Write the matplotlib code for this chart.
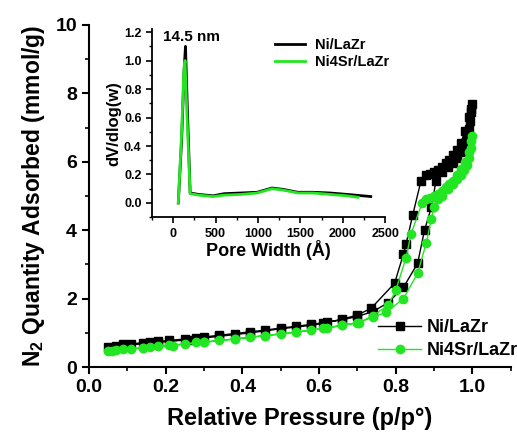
import matplotlib
matplotlib.use("Agg")
import matplotlib.pyplot as plt
from matplotlib.ticker import MultipleLocator

plt.rcParams["font.family"] = ["Liberation Sans", "DejaVu Sans"]
plt.rcParams["font.weight"] = "bold"
plt.rcParams["mathtext.fontset"] = "custom"
plt.rcParams["mathtext.rm"] = "Liberation Sans:bold"
plt.rcParams["mathtext.bf"] = "Liberation Sans:bold"
plt.rcParams["mathtext.default"] = "bf"

# ---------------------------------------------------------------------------
# Data
# ---------------------------------------------------------------------------
# Ni/LaZr isotherm: adsorption then desorption
ni_ads_p = [0.05, 0.07, 0.09, 0.11, 0.14, 0.16, 0.18, 0.21, 0.25, 0.28, 0.30,
            0.34, 0.38, 0.42, 0.46, 0.50, 0.54, 0.58, 0.62, 0.66, 0.70, 0.74,
            0.78, 0.82, 0.857, 0.875, 0.893, 0.905, 0.92, 0.935, 0.948, 0.96,
            0.97, 0.978, 0.985, 0.99, 0.994, 0.997, 0.999]
ni_ads_q = [0.60, 0.63, 0.66, 0.68, 0.71, 0.73, 0.75, 0.78, 0.82, 0.86, 0.88,
            0.93, 0.98, 1.03, 1.08, 1.14, 1.19, 1.25, 1.31, 1.38, 1.48, 1.62,
            1.88, 2.33, 3.03, 4.00, 4.67, 5.45, 5.70, 5.85, 5.97, 6.10,
            6.30, 6.50, 6.70, 6.95, 7.20, 7.45, 7.70]
ni_des_p = [0.995, 0.99, 0.98, 0.97, 0.96, 0.95, 0.94, 0.93, 0.92, 0.91, 0.90,
            0.89, 0.88, 0.866, 0.844, 0.827, 0.82, 0.797, 0.736, 0.70, 0.66,
            0.61, 0.58, 0.50, 0.42, 0.34, 0.26, 0.18, 0.10]
ni_des_q = [7.55, 7.30, 6.90, 6.55, 6.35, 6.20, 6.05, 5.95, 5.85, 5.75, 5.70,
            5.65, 5.60, 5.45, 4.43, 3.60, 3.30, 2.45, 1.72, 1.52, 1.40,
            1.28, 1.22, 1.12, 1.00, 0.90, 0.80, 0.72, 0.64]

# Ni4Sr/LaZr isotherm: adsorption then desorption
sr_ads_p = [0.05, 0.07, 0.09, 0.11, 0.14, 0.16, 0.18, 0.21, 0.25, 0.28, 0.30,
            0.34, 0.38, 0.42, 0.46, 0.50, 0.54, 0.58, 0.62, 0.66, 0.70, 0.74,
            0.775, 0.82, 0.857, 0.88, 0.893, 0.90, 0.91, 0.92, 0.935, 0.948,
            0.96, 0.97, 0.978, 0.985, 0.99, 0.995, 0.999]
sr_ads_q = [0.46, 0.49, 0.52, 0.54, 0.57, 0.59, 0.61, 0.64, 0.68, 0.72, 0.74,
            0.78, 0.82, 0.87, 0.92, 0.97, 1.02, 1.08, 1.14, 1.22, 1.30, 1.45,
            1.60, 2.00, 2.74, 3.64, 4.34, 4.67, 4.90, 5.00, 5.20, 5.35,
            5.50, 5.60, 5.75, 5.90, 6.10, 6.40, 6.76]
sr_des_p = [0.995, 0.99, 0.98, 0.97, 0.96, 0.95, 0.94, 0.93, 0.92, 0.91, 0.90,
            0.89, 0.88, 0.869, 0.84, 0.827, 0.80, 0.78, 0.74, 0.705, 0.66,
            0.61, 0.54, 0.46, 0.38, 0.30, 0.22, 0.14, 0.06]
sr_des_q = [6.60, 6.30, 6.00, 5.80, 5.60, 5.45, 5.35, 5.25, 5.15, 5.05, 5.00,
            4.95, 4.90, 4.80, 3.90, 3.20, 2.24, 1.80, 1.50, 1.30, 1.22,
            1.13, 1.02, 0.92, 0.82, 0.72, 0.63, 0.55, 0.48]

# Pore size distribution (inset)
ni_w = [60, 100, 130, 145, 165, 200, 300, 470, 600, 800, 990, 1165, 1300,
        1470, 1650, 1850, 2050, 2240, 2330]
ni_dv = [0.00, 0.45, 0.95, 1.10, 0.70, 0.07, 0.06, 0.05, 0.065, 0.07, 0.075,
         0.105, 0.095, 0.075, 0.075, 0.07, 0.06, 0.05, 0.045]
sr_w = [60, 100, 125, 140, 160, 200, 300, 470, 600, 800, 990, 1165, 1300,
        1470, 1650, 1850, 2050, 2180]
sr_dv = [0.00, 0.50, 0.92, 1.00, 0.65, 0.065, 0.055, 0.045, 0.055, 0.06, 0.07,
         0.10, 0.09, 0.07, 0.07, 0.06, 0.05, 0.04]

BLACK = "black"
GREEN = "#22e622"

fig = plt.figure(figsize=(5.17, 4.37), dpi=100)

# ---------------------------------------------------------------------------
# Main isotherm
# ---------------------------------------------------------------------------
ax = fig.add_axes([0.172, 0.160, 0.816, 0.783])
ax.plot(ni_ads_p + ni_des_p, ni_ads_q + ni_des_q, color=BLACK, lw=1.0,
        marker="s", ms=5.5, label="Ni/LaZr", zorder=3)
ax.plot(sr_ads_p + sr_des_p, sr_ads_q + sr_des_q, color=GREEN, lw=1.0,
        marker="o", ms=6, label="Ni4Sr/LaZr", zorder=4)

ax.set_xlim(0, 1.1)
ax.set_ylim(0, 10)
ax.xaxis.set_major_locator(MultipleLocator(0.2))
ax.xaxis.set_minor_locator(MultipleLocator(0.1))
ax.yaxis.set_major_locator(MultipleLocator(2))
ax.yaxis.set_minor_locator(MultipleLocator(1))
ax.xaxis.set_major_formatter(plt.FormatStrFormatter("%.1f"))
for s in ("top", "right"):
    ax.spines[s].set_visible(False)
for s in ("left", "bottom"):
    ax.spines[s].set_linewidth(1.5)
ax.tick_params(which="major", direction="out", length=5, width=1.5,
               labelsize=14)
ax.tick_params(which="minor", direction="out", length=3, width=1.2)
for lbl in ax.get_xticklabels() + ax.get_yticklabels():
    lbl.set_fontweight("bold")

ax.set_xlabel("Relative Pressure (p/p°)", fontsize=17, fontweight="bold",
              labelpad=8)
ax.set_ylabel(r"N$_2$ Quantity Adsorbed $\left(\mathbf{mmol/g}\right)$",
              fontsize=16.5, fontweight="bold", labelpad=6)

ax.legend(loc="upper left", bbox_to_anchor=(0.731, 0.27),
          bbox_transform=fig.transFigure, frameon=False, borderpad=0,
          borderaxespad=0, handlelength=2.4, handletextpad=0.3,
          labelspacing=0.35, prop={"weight": "bold", "size": 13})

# ---------------------------------------------------------------------------
# Inset: pore size distribution
# ---------------------------------------------------------------------------
ins = fig.add_axes([0.294, 0.503, 0.451, 0.430])
ins.plot(ni_w, ni_dv, color=BLACK, lw=2.0, label="Ni/LaZr")
ins.plot(sr_w, sr_dv, color=GREEN, lw=2.0, label="Ni4Sr/LaZr")
ins.set_xlim(-250, 2500)
ins.set_ylim(-0.1, 1.22)
ins.xaxis.set_major_locator(MultipleLocator(500))
ins.xaxis.set_minor_locator(MultipleLocator(250))
ins.yaxis.set_major_locator(MultipleLocator(0.2))
ins.yaxis.set_minor_locator(MultipleLocator(0.1))
ins.yaxis.set_major_formatter(plt.FormatStrFormatter("%.1f"))
for s in ("top", "right"):
    ins.spines[s].set_visible(False)
for s in ("left", "bottom"):
    ins.spines[s].set_linewidth(1.3)
ins.tick_params(which="major", direction="out", length=4, width=1.2,
                labelsize=9)
ins.tick_params(which="minor", direction="out", length=2, width=1.0)
for lbl in ins.get_xticklabels() + ins.get_yticklabels():
    lbl.set_fontweight("bold")
ins.set_xlabel("Pore Width (Å)", fontsize=13, fontweight="bold", labelpad=0)
ins.set_ylabel("dV/dlog(w)", fontsize=12, fontweight="bold", labelpad=2)
ins.text(212, 1.165, "14.5 nm", ha="center", va="center", fontsize=11,
         fontweight="bold")
ins.legend(loc="upper left", bbox_to_anchor=(0.532, 0.913),
           bbox_transform=fig.transFigure, frameon=False, borderpad=0,
           borderaxespad=0, handlelength=2.05, handletextpad=0.7,
           labelspacing=0.23, prop={"weight": "bold", "size": 10.5})

fig.savefig("out.png", dpi=100)
